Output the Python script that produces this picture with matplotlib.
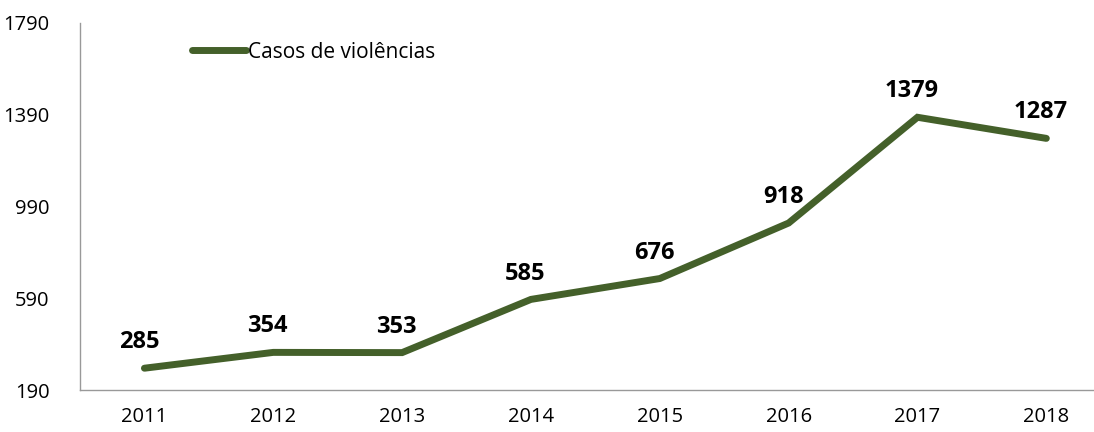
import matplotlib.pyplot as plt

anos = ['2011', '2012', '2013', '2014', '2015', '2016', '2017', '2018']
casos = [285, 354, 353, 585, 676, 918, 1379, 1287]
yticks = [190, 590, 990, 1390, 1790]

cor = '#44602A'
plt.rcParams['font.family'] = ['Open Sans', 'DejaVu Sans']

fig = plt.figure(figsize=(10.94, 4.32), dpi=100)
ax = fig.add_axes([80 / 1094, 1 - 390 / 432, 1014 / 1094, 367 / 432])

x = list(range(len(anos)))
ax.plot(x, casos, color=cor, linewidth=5, solid_capstyle='round',
        solid_joinstyle='miter', label='Casos de violências')

for xi, v in zip(x, casos):
    ax.annotate(str(v), (xi, v), xytext=(-4, 10), textcoords='offset points',
                ha='center', va='bottom', fontsize=17, fontweight='bold')

ax.set_xlim(-0.5, 7.37)
ax.set_ylim(190, 1790)
ax.set_xticks(x)
ax.set_xticklabels(anos)
ax.set_yticks(yticks)
ax.tick_params(length=0, labelsize=14.5, pad=12)
ax.tick_params(axis='y', pad=22)
for s in ['top', 'right']:
    ax.spines[s].set_visible(False)
for s in ['left', 'bottom']:
    ax.spines[s].set_color('#999999')
    ax.spines[s].set_linewidth(1)

leg = ax.legend(loc='upper left', bbox_to_anchor=(0.092, 1.0), frameon=False,
                fontsize=15, handlelength=2.6, handletextpad=0.1)

fig.savefig('out.png', dpi=100)
